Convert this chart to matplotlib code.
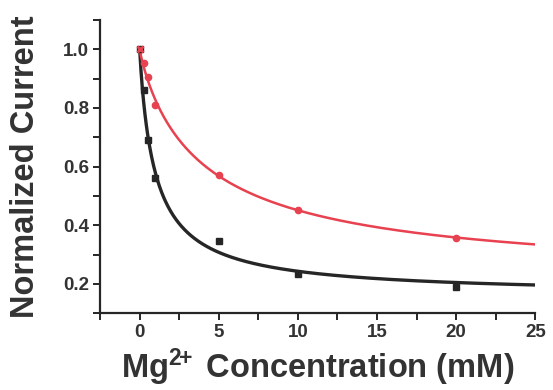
import numpy as np
import matplotlib
matplotlib.use("Agg")
import matplotlib.pyplot as plt

plt.rcParams["mathtext.fontset"] = "custom"
plt.rcParams["mathtext.rm"] = "Liberation Sans:bold"
plt.rcParams["mathtext.bf"] = "Liberation Sans:bold"
plt.rcParams["mathtext.it"] = "Liberation Sans:bold"

# Data
conc_mM = [0, 0.25, 0.5, 1.0, 5, 10, 20]
black_current = [1.0, 0.86, 0.69, 0.56, 0.345, 0.232, 0.19]
red_current = [1.0, 0.953, 0.905, 0.81, 0.572, 0.452, 0.356]
x_ticks = [0, 5, 10, 15, 20, 25]
y_ticks = [0.2, 0.4, 0.6, 0.8, 1.0]

BLACK = "#262626"
RED = "#e8414f"
TEXT = "#333333"


def fit_curve(x, y):
    """Least-squares fit of y = c + (1 - c) / (1 + (x/K)^n) by grid search."""
    x = np.asarray(x, float)
    y = np.asarray(y, float)
    best = None
    for K in np.linspace(0.2, 12, 300):
        for n in np.linspace(0.5, 1.5, 41):
            g = 1.0 / (1.0 + (x / K) ** n)
            h = 1.0 - g
            c = np.sum((y - g) * h) / np.sum(h * h)
            r = np.sum((c + (1 - c) * g - y) ** 2)
            if best is None or r < best[0]:
                best = (r, c, K, n)
    _, c, K, n = best
    return lambda xx: c + (1 - c) / (1.0 + (np.asarray(xx) / K) ** n)


fb = fit_curve(conc_mM, black_current)
fr = fit_curve(conc_mM, red_current)
xs = np.linspace(0, 25, 600)

fig = plt.figure(figsize=(5.53, 3.90), dpi=100)
ax = fig.add_axes([0.181, 0.197, 0.787, 0.752])

ax.plot(xs, fb(xs), color=BLACK, lw=2.4, zorder=2)
ax.plot(xs, fr(xs), color=RED, lw=1.8, zorder=2)
ax.plot(conc_mM, black_current, "s", color=BLACK, ms=5, zorder=3)
ax.plot(conc_mM[1:], red_current[1:], "o", color=RED, ms=4.5, zorder=4)
ax.plot(conc_mM[:1], red_current[:1], "x", color=RED, ms=5, mew=2, zorder=5)

ax.set_xlim(-2.5, 25)
ax.set_ylim(0.1, 1.1)
ax.set_xticks(x_ticks)
ax.set_xticks(np.arange(-2.5, 25.1, 2.5), minor=True)
ax.set_yticks(y_ticks)
ax.set_yticks(np.arange(0.1, 1.11, 0.1), minor=True)
ax.set_xticklabels([str(t) for t in x_ticks])
ax.set_yticklabels([f"{t:.1f}" for t in y_ticks])

for s in ("top", "right"):
    ax.spines[s].set_visible(False)
for s in ("left", "bottom"):
    ax.spines[s].set_linewidth(1.6)
    ax.spines[s].set_color(BLACK)

ax.tick_params(which="both", direction="out", length=5, width=1.4, color=BLACK)
ax.tick_params(which="major", labelsize=13.5, labelcolor=TEXT, pad=3)
for lab in ax.get_xticklabels() + ax.get_yticklabels():
    lab.set_fontweight("bold")
    lab.set_family("Liberation Sans")

ax.set_xlabel(r"Mg$^{\mathrm{2\!\!+}}$Concentration (mM)".replace("$C", "$ C"),
              fontsize=23.5, fontweight="bold",
              color=TEXT, family="Liberation Sans", labelpad=4)
ax.set_ylabel("Normalized Current", fontsize=23.5, fontweight="bold",
              color=TEXT, family="Liberation Sans", labelpad=16)

fig.savefig("out.png", dpi=100)
